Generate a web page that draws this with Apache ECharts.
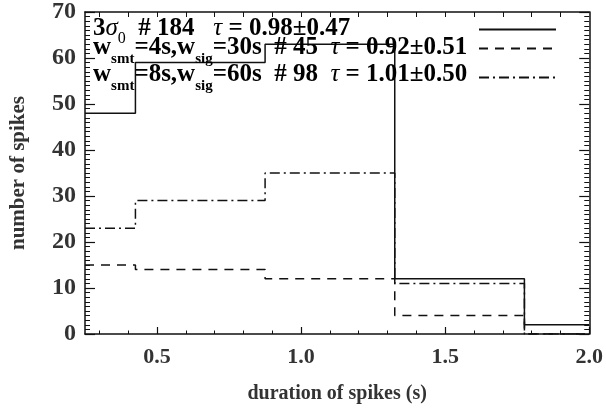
<!DOCTYPE html>
<html>
<head>
<meta charset="utf-8">
<script src="https://cdn.jsdelivr.net/npm/echarts@6/dist/echarts.min.js"></script>
<style>html,body{margin:0;padding:0;background:#fff}#c{width:606px;height:412px}</style>
</head>
<body>
<div id="c"></div>
<script>
// ---- data ----
const binStarts = [0.25, 0.425, 0.875, 1.325, 1.775];
const xMin = 0.25, xMax = 2.0;
const counts3sigma = [48, 59, 63, 12, 2];
const countsW4 = [15, 14, 12, 4, 0];
const countsW8 = [23, 29, 35, 11, 0];
const xMajorTicks = [0.5, 1.0, 1.5, 2.0];
const xMinorTicks = [0.3, 0.4, 0.6, 0.7, 0.8, 0.9, 1.1, 1.2, 1.3, 1.4, 1.6, 1.7, 1.8, 1.9];
const xTopTicks = [0.3, 0.4, 0.5, 0.6, 0.7, 0.8, 0.9, 1.0, 1.1, 1.2, 1.3, 1.4, 1.5, 1.6, 1.7, 1.8, 1.9];
const seriesNames = ['3sigma', 'w4', 'w8'];

function stepData(vals) {
  const d = binStarts.map((x, i) => [x, vals[i]]);
  d.push([xMax, vals[vals.length - 1]]);
  return d;
}

const FF = '"Liberation Serif", "Times New Roman", serif';
const TXT = '#333';
const INK = '#111';

const rich = {
  b: { fontFamily: FF, fontWeight: 'bold', fontSize: 25, lineHeight: 26, color: TXT, verticalAlign: 'top' },
  g: { fontFamily: FF, fontStyle: 'italic', fontWeight: 'normal', fontSize: 25, lineHeight: 26, color: TXT, verticalAlign: 'top' },
  s: { fontFamily: FF, fontWeight: 'bold', fontSize: 15, lineHeight: 15, padding: [17, 0, 0, 0], color: TXT, verticalAlign: 'top' },
  z: { fontFamily: FF, fontWeight: 'normal', fontSize: 16, lineHeight: 16, padding: [15, 0, 0, 0], color: TXT, verticalAlign: 'top' }
};

const legendRows = [
  '{b|3}{g|σ}{z|0}{b|  # 184   }{g|τ}{b| = 0.98±0.47}',
  '{b|w}{s|smt}{b|=4s,w}{s|sig}{b|=30s  # 45  }{g|τ}{b| = 0.92±0.51}',
  '{b|w}{s|smt}{b|=8s,w}{s|sig}{b|=60s  # 98  }{g|τ}{b| = 1.01±0.50}'
];
const legendTops = [16, 35, 62];
const iconTops = [24, 43, 72];

const chart = echarts.init(document.getElementById('c'), null, { renderer: 'canvas' });
const lineBase = { type: 'line', step: 'end', symbol: 'none', showSymbol: false, clip: true };

chart.setOption({
  animation: false,
  backgroundColor: '#fff',
  grid: { left: 80, right: 16, top: 7, bottom: 78 },
  legend: seriesNames.map((n, i) => ({
    data: [n], left: 478, top: iconTops[i], padding: 0, itemWidth: 77, itemHeight: 14,
    itemStyle: { opacity: 0 },
    formatter: () => ' ', textStyle: { fontSize: 2 }, selectedMode: false
  })),
  graphic: legendRows.map((t, i) => ({
    type: 'text', left: 93, top: legendTops[i], z: 100,
    style: { text: t, rich: rich }
  })),
  xAxis: [
    {
      type: 'value', position: 'bottom', min: xMin, max: xMax,
      axisLine: { show: true, lineStyle: { color: INK, width: 1.5 } },
      axisTick: { show: true, inside: true, length: 7, customValues: xMajorTicks, lineStyle: { color: INK, width: 1.2 } },
      axisLabel: { show: true, customValues: xMajorTicks, formatter: v => v.toFixed(1), margin: 12,
        fontFamily: FF, fontWeight: 'bold', fontSize: 22, color: TXT },
      splitLine: { show: false },
      name: 'duration of spikes (s)', nameLocation: 'middle', nameGap: 50,
      nameTextStyle: { fontFamily: FF, fontWeight: 'bold', fontSize: 20, color: TXT }
    },
    {
      type: 'value', position: 'bottom', min: xMin, max: xMax,
      axisLine: { show: false },
      axisTick: { show: true, inside: true, length: 3.5, customValues: xMinorTicks, lineStyle: { color: INK, width: 1 } },
      axisLabel: { show: false }, splitLine: { show: false }
    },
    {
      type: 'value', position: 'top', min: xMin, max: xMax,
      axisLine: { show: true, lineStyle: { color: INK, width: 1.5 } },
      axisTick: { show: true, inside: true, length: 5, customValues: xTopTicks, lineStyle: { color: INK, width: 1 } },
      axisLabel: { show: false }, splitLine: { show: false }
    }
  ],
  yAxis: [
    {
      type: 'value', position: 'left', min: 0, max: 70, interval: 10,
      axisLine: { show: true, lineStyle: { color: INK, width: 1.5 } },
      axisTick: { show: true, inside: true, length: 10, lineStyle: { color: INK, width: 1.2 } },
      minorTick: { show: true, splitNumber: 10, length: 5, lineStyle: { color: INK, width: 1 } },
      axisLabel: { margin: 9, fontFamily: FF, fontWeight: 'bold', fontSize: 24, color: TXT },
      splitLine: { show: false }, minorSplitLine: { show: false },
      name: 'number of spikes', nameLocation: 'middle', nameGap: 56, nameRotate: 90,
      nameTextStyle: { fontFamily: FF, fontWeight: 'bold', fontSize: 21, color: TXT }
    },
    {
      type: 'value', position: 'right', min: 0, max: 70, interval: 10,
      axisLine: { show: true, lineStyle: { color: INK, width: 1.5 } },
      axisTick: { show: true, inside: true, length: 10, lineStyle: { color: INK, width: 1.2 } },
      minorTick: { show: true, splitNumber: 10, length: 5, lineStyle: { color: INK, width: 1 } },
      axisLabel: { show: false }, splitLine: { show: false }, minorSplitLine: { show: false }
    }
  ],
  series: [
    Object.assign({}, lineBase, { name: seriesNames[0], data: stepData(counts3sigma),
      lineStyle: { color: INK, width: 1.5, type: 'solid' }, itemStyle: { color: INK } }),
    Object.assign({}, lineBase, { name: seriesNames[1], data: stepData(countsW4),
      lineStyle: { color: INK, width: 1.5, type: [9, 7] }, itemStyle: { color: INK } }),
    Object.assign({}, lineBase, { name: seriesNames[2], data: stepData(countsW8),
      lineStyle: { color: INK, width: 1.5, type: [10, 4, 2, 4] }, itemStyle: { color: INK } })
  ]
});
</script>
</body>
</html>
